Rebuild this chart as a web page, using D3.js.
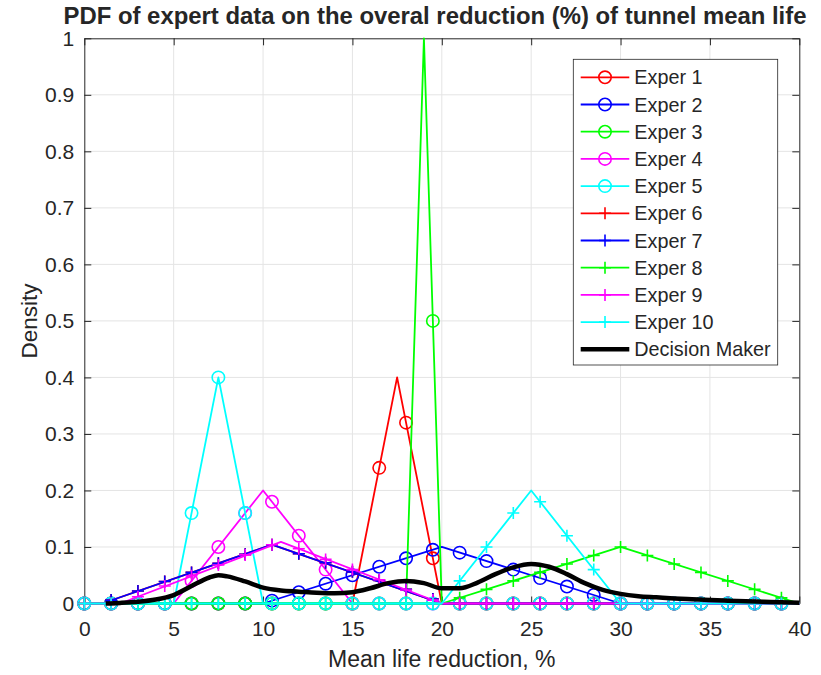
<!DOCTYPE html>
<html>
<head>
<meta charset="utf-8">
<script src="https://cdn.jsdelivr.net/npm/d3@7"></script>
<style>
  body { margin: 0; background: #fff; }
  svg { display: block; }
  text { font-family: "Liberation Sans", Arial, Helvetica, sans-serif; fill: #262626; }
</style>
</head>
<body>
<svg id="chart" width="821" height="675"></svg>
<script>
// ---- data -------------------------------------------------------------
const titleText = "PDF of expert data on the overal reduction (%) of tunnel mean life";
const xLabelText = "Mean life reduction, %";
const yLabelText = "Density";

const xTicks = [0, 5, 10, 15, 20, 25, 30, 35, 40];
const xTickLabels = ["0", "5", "10", "15", "20", "25", "30", "35", "40"];
const yTicks = [0, 0.1, 0.2, 0.3, 0.4, 0.5, 0.6, 0.7, 0.8, 0.9, 1];
const yTickLabels = ["0", "0.1", "0.2", "0.3", "0.4", "0.5", "0.6", "0.7", "0.8", "0.9", "1"];

// marker positions shared by all experts
const gridX = [0, 1.5, 3, 4.5, 6, 7.5, 9, 10.5, 12, 13.5, 15, 16.5, 18, 19.5,
               21, 22.5, 24, 25.5, 27, 28.5, 30, 31.5, 33, 34.5, 36, 37.5, 39];

// density at each marker position
const exper1 = [0,0,0,0,0,0,0,0,0,0,0,0.24,0.32,0.08,0,0,0,0,0,0,0,0,0,0,0,0,0];
const exper2 = [0,0,0,0,0,0,0,0.005,0.02,0.035,0.05,0.065,0.08,0.095,0.09,0.075,0.06,0.045,0.03,0.015,0,0,0,0,0,0,0];
const exper3 = [0,0,0,0,0,0,0,0,0,0,0,0,0,0.5,0,0,0,0,0,0,0,0,0,0,0,0,0];
const exper4 = [0,0,0,0,0.04,0.1,0.16,0.18,0.12,0.06,0,0,0,0,0,0,0,0,0,0,0,0,0,0,0,0,0];
const exper5 = [0,0,0,0,0.16,0.4,0.16,0,0,0,0,0,0,0,0,0,0,0,0,0,0,0,0,0,0,0,0];
const exper6 = [0,0.006,0.022,0.039,0.055,0.071,0.087,0.104,0.088,0.072,0.056,0.041,0.025,0.008,0,0,0,0,0,0,0,0,0,0,0,0,0];
const exper7 = [0,0.006,0.022,0.039,0.055,0.071,0.087,0.104,0.088,0.072,0.056,0.041,0.025,0.008,0,0,0,0,0,0,0,0,0,0,0,0,0];
const exper8 = [0,0,0,0,0,0,0,0,0,0,0,0,0,0,0.01,0.025,0.04,0.055,0.07,0.085,0.1,0.085,0.07,0.055,0.04,0.025,0.01];
const exper9 = [0,0,0.012,0.031,0.049,0.068,0.086,0.104,0.097,0.078,0.06,0.042,0.024,0.006,0,0,0,0,0,0,0,0,0,0,0,0,0];
const exper10 = [0,0,0,0,0,0,0,0,0,0,0,0,0,0,0.04,0.1,0.16,0.18,0.12,0.06,0,0,0,0,0,0,0];

// triangular pdf outlines: [x, density] corners
const exper1Line = [[0,0],[15,0],[17.5,0.4],[20,0],[40,0]];
const exper2Line = [[0,0],[10,0],[20,0.1],[30,0],[40,0]];
const exper3Line = [[0,0],[18,0],[19,1],[20,0],[40,0]];
const exper4Line = [[0,0],[5,0],[10,0.2],[15,0],[40,0]];
const exper5Line = [[0,0],[5,0],[7.5,0.4],[10,0],[40,0]];
const exper6Line = [[0,0],[1,0],[10.5,0.104],[20,0],[40,0]];
const exper7Line = [[0,0],[1,0],[10.5,0.104],[20,0],[40,0]];
const exper8Line = [[0,0],[20,0],[30,0.1],[40,0]];
const exper9Line = [[0,0],[2,0],[11,0.109],[20,0],[40,0]];
const exper10Line = [[0,0],[20,0],[25,0.2],[30,0],[40,0]];

// aggregated decision-maker density
const dmX = [1.2,2,3,4,5,6,7,7.5,8,9,10,11,12,13,14,15,16,17,18,19,20,21,22,23,24,25,26,27,28,29,30,31,32,33,34,35,36,37,38,39,40];
const dmY = [0,0.001,0.003,0.007,0.015,0.031,0.046,0.050,0.048,0.039,0.028,0.023,0.021,0.019,0.018,0.020,0.027,0.036,0.040,0.036,0.027,0.027,0.037,0.052,0.064,0.070,0.065,0.052,0.036,0.024,0.017,0.013,0.011,0.009,0.0075,0.006,0.005,0.004,0.003,0.002,0.0015];

const seriesNames = ["Exper 1","Exper 2","Exper 3","Exper 4","Exper 5","Exper 6","Exper 7","Exper 8","Exper 9","Exper 10"];
const seriesColors = ["#ff0000","#0000ff","#00ff00","#ff00ff","#00ffff","#ff0000","#0000ff","#00ff00","#ff00ff","#00ffff"];
const seriesMarkers = ["circle","circle","circle","circle","circle","plus","plus","plus","plus","plus"];
const seriesPoints = [exper1, exper2, exper3, exper4, exper5, exper6, exper7, exper8, exper9, exper10];
const seriesLines = [exper1Line, exper2Line, exper3Line, exper4Line, exper5Line, exper6Line, exper7Line, exper8Line, exper9Line, exper10Line];
const dmName = "Decision Maker";

// ---- layout -----------------------------------------------------------
const svg = d3.select("#chart");
const plot = { left: 84.3, right: 799.3, top: 38.3, bottom: 603.5 };
const x = d3.scaleLinear().domain([0, 40]).range([plot.left, plot.right]);
const y = d3.scaleLinear().domain([0, 1]).range([plot.bottom, plot.top]);
const axisColor = "#262626";
const tickFont = 21;

// grid
const grid = svg.append("g").attr("stroke", "#e4e4e4").attr("stroke-width", 1);
grid.selectAll("line.gx").data(xTicks.slice(1, -1)).join("line")
  .attr("x1", d => x(d)).attr("x2", d => x(d)).attr("y1", plot.top).attr("y2", plot.bottom);
grid.selectAll("line.gy").data(yTicks.slice(1, -1)).join("line")
  .attr("x1", plot.left).attr("x2", plot.right).attr("y1", d => y(d)).attr("y2", d => y(d));

// axes (inward ticks on all four sides)
function styleAxis(g) {
  g.select(".domain").attr("stroke", axisColor).attr("stroke-width", 1);
  g.selectAll(".tick line").attr("stroke", axisColor).attr("stroke-width", 1);
  g.selectAll(".tick text").attr("fill", axisColor).style("font-size", tickFont + "px")
    .style("font-family", '"Liberation Sans", Arial, sans-serif');
}
svg.append("g").attr("transform", `translate(0,${plot.bottom})`)
  .call(d3.axisBottom(x).tickValues(xTicks).tickFormat((d, i) => xTickLabels[i])
    .tickSizeInner(-7).tickSizeOuter(0).tickPadding(17.5))
  .call(styleAxis);
svg.append("g").attr("transform", `translate(0,${plot.top})`)
  .call(d3.axisTop(x).tickValues(xTicks).tickFormat("").tickSizeInner(-7).tickSizeOuter(0))
  .call(styleAxis);
svg.append("g").attr("transform", `translate(${plot.left},0)`)
  .call(d3.axisLeft(y).tickValues(yTicks).tickFormat((d, i) => yTickLabels[i])
    .tickSizeInner(-7).tickSizeOuter(0).tickPadding(10))
  .call(styleAxis);
svg.append("g").attr("transform", `translate(${plot.right},0)`)
  .call(d3.axisRight(y).tickValues(yTicks).tickFormat("").tickSizeInner(-7).tickSizeOuter(0))
  .call(styleAxis);

// markers
const plusPath = "M-6,0H6M0,-6V6";
function drawMarker(sel, type, color) {
  if (type === "circle") {
    sel.append("circle").attr("r", 6.2).attr("fill", "none")
      .attr("stroke", color).attr("stroke-width", 1.6);
  } else {
    sel.append("path").attr("d", plusPath).attr("fill", "none")
      .attr("stroke", color).attr("stroke-width", 1.6);
  }
}

// expert series: outline then markers, in legend order
const line = d3.line().x(d => x(d[0])).y(d => y(d[1]));
seriesNames.forEach((name, s) => {
  const g = svg.append("g").attr("class", "series");
  g.append("path").datum(seriesLines[s]).attr("d", line)
    .attr("fill", "none").attr("stroke", seriesColors[s]).attr("stroke-width", 1.8)
    .attr("stroke-linejoin", "round");
  g.selectAll("g.mk").data(gridX.map((gx, i) => [gx, seriesPoints[s][i]])).join("g")
    .attr("class", "mk")
    .attr("transform", d => `translate(${x(d[0])},${y(d[1])})`)
    .each(function () { drawMarker(d3.select(this), seriesMarkers[s], seriesColors[s]); });
});

// decision maker curve
const dmLine = d3.line().x(d => x(d[0])).y(d => y(d[1])).curve(d3.curveMonotoneX);
svg.append("path").datum(dmX.map((v, i) => [v, dmY[i]])).attr("d", dmLine)
  .attr("fill", "none").attr("stroke", "#000").attr("stroke-width", 4.5)
  .attr("stroke-linejoin", "round").attr("stroke-linecap", "butt");

// legend
const lg = svg.append("g").attr("transform", "translate(573.3,59.3)");
lg.append("rect").attr("width", 204.4).attr("height", 305.7)
  .attr("fill", "#fff").attr("stroke", axisColor).attr("stroke-width", 0.8);
const rowH = 27.2, row0 = 18;
const legendItems = seriesNames.map((n, i) => ({ name: n, color: seriesColors[i], marker: seriesMarkers[i], w: 1.8 }))
  .concat([{ name: dmName, color: "#000", marker: null, w: 4.5 }]);
legendItems.forEach((it, i) => {
  const r = lg.append("g").attr("transform", `translate(0,${row0 + i * rowH})`);
  r.append("line").attr("x1", 7.4).attr("x2", 56).attr("y1", 0).attr("y2", 0)
    .attr("stroke", it.color).attr("stroke-width", it.w);
  if (it.marker) drawMarker(r.append("g").attr("transform", "translate(31.7,0)"), it.marker, it.color);
  r.append("text").attr("x", 61).attr("y", 0).attr("dy", "0.36em")
    .style("font-size", "19.8px").text(it.name);
});

// labels
const title = svg.append("text").attr("x", 435).attr("y", 23.5).attr("text-anchor", "middle")
  .style("font-size", "20px").style("font-weight", "bold").attr("fill", "#000").text(titleText);
const tw = title.node().getComputedTextLength();
title.style("font-size", (20 * 743 / tw).toFixed(2) + "px");

svg.append("text").attr("x", (plot.left + plot.right) / 2).attr("y", 667)
  .attr("text-anchor", "middle").style("font-size", "23px").text(xLabelText);
svg.append("text").attr("transform", `translate(37,${(plot.top + plot.bottom) / 2}) rotate(-90)`)
  .attr("text-anchor", "middle").style("font-size", "22.5px").text(yLabelText);
</script>
</body>
</html>
